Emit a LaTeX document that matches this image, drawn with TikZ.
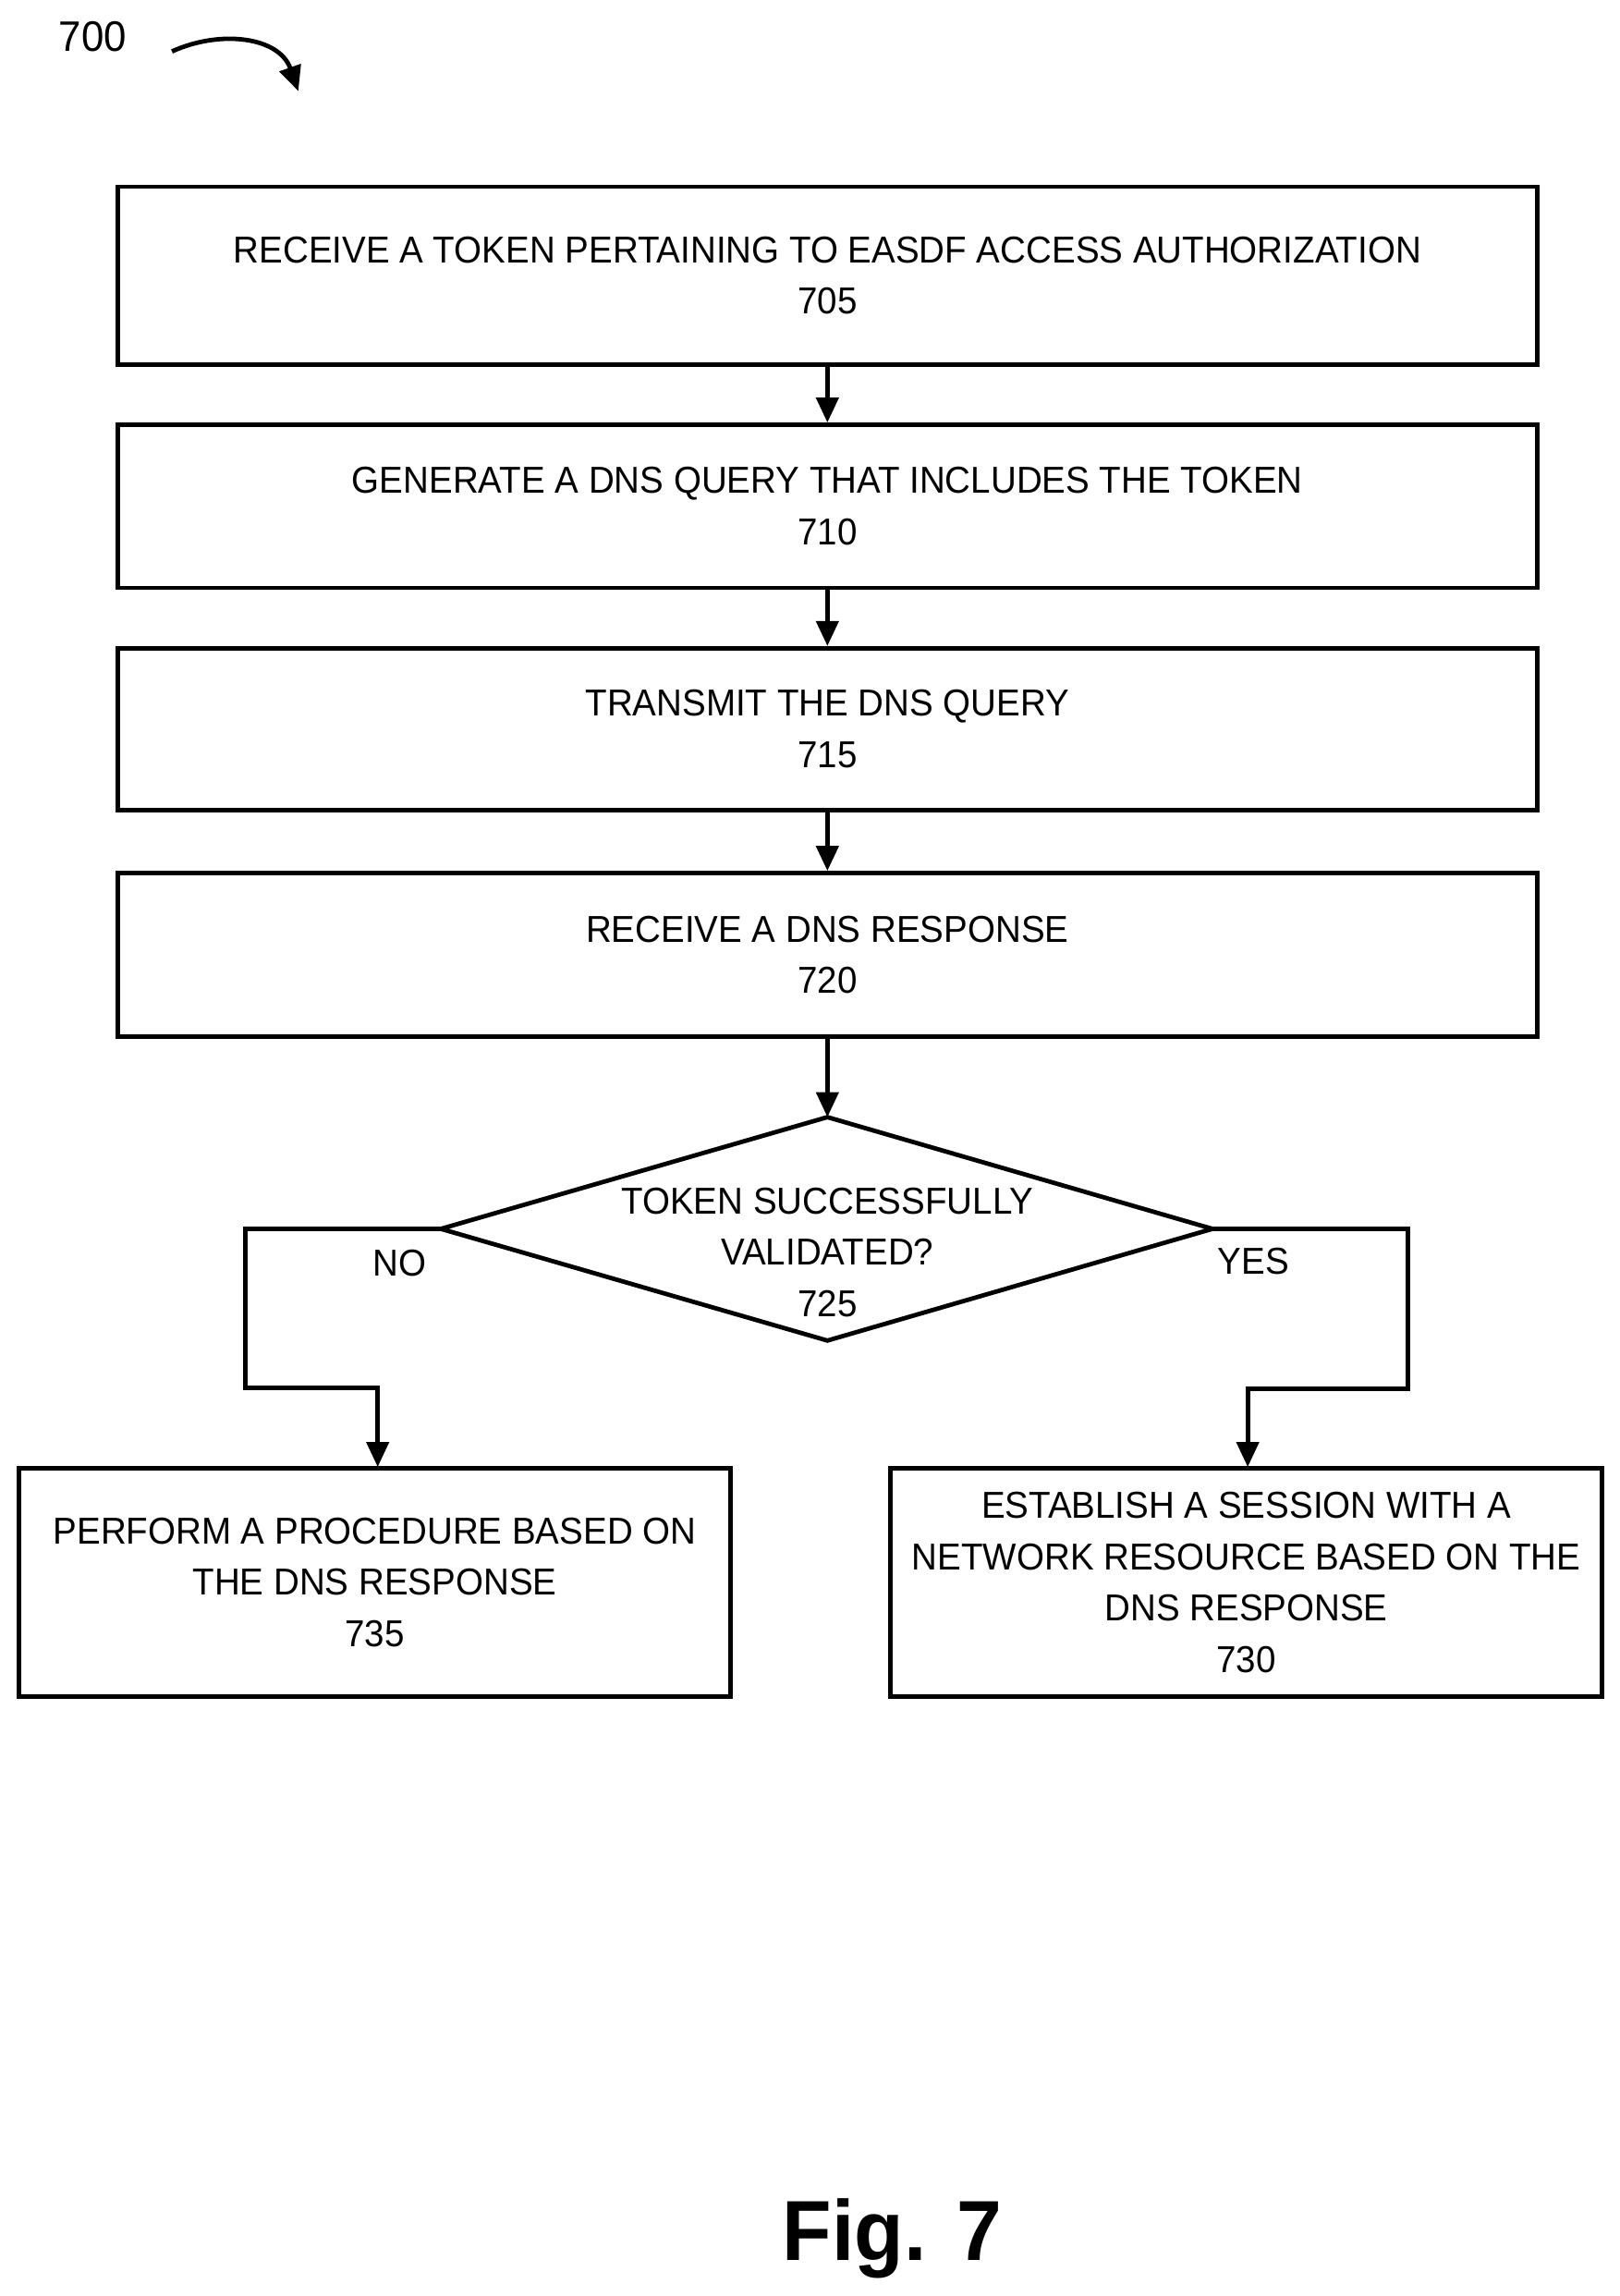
\documentclass[tikz,border=0pt]{standalone}
\usepackage{fontspec}
\setmainfont[FakeStretch=0.95]{Liberation Sans}
\usetikzlibrary{arrows.meta}
\begin{document}
\begin{tikzpicture}[x=1pt,y=-1pt,
  box/.style={draw,line width=3pt,inner sep=0pt},
  txt/.style={font=\fontsize{25.5}{35}\selectfont,align=center,inner sep=0pt},
  arr/.style={line width=3pt,-{Triangle[length=17pt,width=15pt]}},
  ln/.style={line width=3pt}]
\useasboundingbox (0,0) rectangle (1102,1562);
\node[txt,anchor=west,font=\fontsize{29}{35}\selectfont] (n700) at (40,25) {700};
\coordinate (c1) at (117,35);
\coordinate (c2) at (203,62);
\draw[arr] (c1) .. controls (150,20) and (190,25) .. (c2);
\node[box,minimum width=966pt,minimum height=121pt] (b705) at (563,187.5) {};
\node[txt] at (b705) {RECEIVE A TOKEN PERTAINING TO EASDF ACCESS AUTHORIZATION\\705};
\node[box,minimum width=966pt,minimum height=111pt] (b710) at (563,344.5) {};
\node[txt] at (b710) {GENERATE A DNS QUERY THAT INCLUDES THE TOKEN\\710};
\node[box,minimum width=966pt,minimum height=110pt] (b715) at (563,496) {};
\node[txt] at (b715) {TRANSMIT THE DNS QUERY\\715};
\node[box,minimum width=966pt,minimum height=111pt] (b720) at (563,649.5) {};
\node[txt] at (b720) {RECEIVE A DNS RESPONSE\\720};
\coordinate (dt) at (563,760);
\coordinate (dl) at (300,836);
\coordinate (dr) at (825,836);
\coordinate (db) at (563,912);
\draw[ln] (dt) -- (dr) -- (db) -- (dl) -- cycle;
\node[txt] (d725) at (563,852) {TOKEN SUCCESSFULLY\\VALIDATED?\\725};
\node[box,minimum width=484pt,minimum height=155pt] (b735) at (255,1076.5) {};
\node[txt] at (b735) {PERFORM A PROCEDURE BASED ON\\THE DNS RESPONSE\\735};
\node[box,minimum width=484pt,minimum height=155pt] (b730) at (848,1076.5) {};
\node[txt] at (b730) {ESTABLISH A SESSION WITH A\\NETWORK RESOURCE BASED ON THE\\DNS RESPONSE\\730};
\draw[arr] (b705.south) -- (b710.north);
\draw[arr] (b710.south) -- (b715.north);
\draw[arr] (b715.south) -- (b720.north);
\draw[arr] (b720.south) -- (dt);
\draw[arr] (dl) -- (167,836) -- (167,944) -- (257,944) -- (257,998);
\draw[arr] (dr) -- (958,836) -- (958,945) -- (849,945) -- (849,998);
\node[txt] (no) at (272,859) {NO};
\node[txt] (yes) at (853,858) {YES};
\node[font=\fontsize{58}{60}\selectfont\bfseries,inner sep=0pt] (fig) at (607,1523) {Fig. 7};
\end{tikzpicture}
\end{document}
